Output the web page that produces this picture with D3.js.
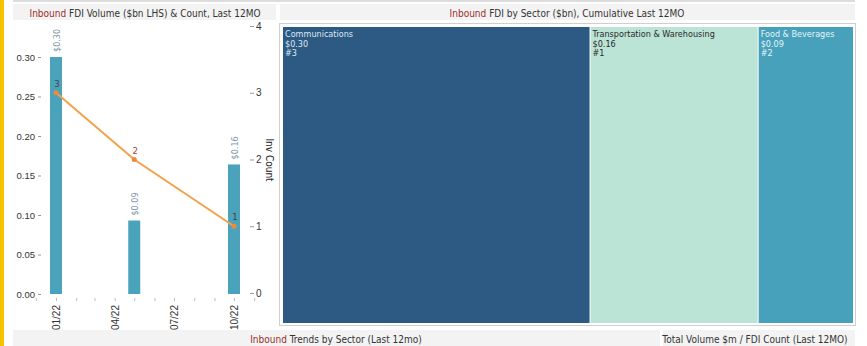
<!DOCTYPE html>
<html><head><meta charset="utf-8">
<script src="https://cdn.jsdelivr.net/npm/d3@7"></script>
<style>
body{margin:0;background:#fff;}
svg{display:block;font-family:"Liberation Sans Narrow","DejaVu Sans Condensed","Open Sans",sans-serif;}
</style></head><body>
<svg id="c" width="867" height="346"></svg>
<script>
// ---- data ----
const months = ["2022-01", "2022-05", "2022-10"];
const volumes = [0.30, 0.093, 0.164];          // $bn
const counts = [3, 2, 1];                       // deal count
const volTicks = [0, 0.05, 0.10, 0.15, 0.20, 0.25, 0.30];
const countTicks = [0, 1, 2, 3, 4];
const sectors = ["Communications", "Transportation & Warehousing", "Food & Beverages"];
const sectorValues = [0.30, 0.164, 0.093];
const sectorCounts = [3, 1, 2];
const leftTitle = ["Inbound", " FDI Volume ($bn LHS) & Count, Last 12MO"];
const rightTitle = ["Inbound", " FDI by Sector ($bn), Cumulative Last 12MO"];
const bottomTitleA = ["Inbound", " Trends by Sector (Last 12mo)"];
const bottomTitleB = "Total Volume $m / FDI Count (Last 12MO)";

const svg = d3.select("#c");
const parse = d3.timeParse("%Y-%m");

// frame
svg.append("rect").attr("x",0).attr("y",0).attr("width",4).attr("height",346).attr("fill","#f7c300");
svg.append("rect").attr("x",13).attr("y",0).attr("width",842).attr("height",2).attr("fill","#dcdcdc");
function titleBar(x,w,y,h,parts,cx){
  svg.append("rect").attr("x",x).attr("y",y).attr("width",w).attr("height",h).attr("fill","#f3f3f3");
  const t = svg.append("text").attr("x",cx).attr("y",y+12.5).attr("text-anchor","middle").attr("font-size",10);
  if (typeof parts === "string") t.append("tspan").attr("fill","#333").text(parts);
  else { t.append("tspan").attr("fill","#9b2c2c").text(parts[0]); t.append("tspan").attr("fill","#333").text(parts[1]); }
}
titleBar(13,263,4,16,leftTitle,145);
titleBar(280,575,4,16,rightTitle,567);
titleBar(13,647,330,16,bottomTitleA,336);
titleBar(663,192,330,16,bottomTitleB,755);

// ---- left combo chart ----
const x = d3.scaleTime().domain([parse("2022-01"), parse("2022-10")]).range([56, 234]);
const yL = d3.scaleLinear().domain([0, 0.30]).range([294, 57]);
const yR = d3.scaleLinear().domain([0, 4]).range([293, 26]);

const axL = svg.append("g").attr("transform","translate(41,0)")
  .call(d3.axisLeft(yL).tickValues(volTicks).tickFormat(d3.format(".2f")).tickSize(3).tickPadding(3));
axL.select(".domain").remove();
axL.selectAll("text").attr("font-size",9.5).attr("fill","#333").attr("font-family","inherit");
axL.selectAll("line").attr("stroke","#999");

const axR = svg.append("g").attr("transform","translate(250,0)")
  .call(d3.axisRight(yR).tickValues(countTicks).tickFormat(d3.format("d")).tickSize(4).tickPadding(2));
axR.select(".domain").remove();
axR.selectAll("text").attr("font-size",10).attr("fill","#333").attr("font-family","inherit");
axR.selectAll("line").attr("stroke","#999");
svg.append("text").attr("transform","translate(266,160) rotate(90)").attr("text-anchor","middle")
  .attr("font-size",10).attr("fill","#222").text("Inv Count");

// x axis: monthly minor ticks, quarterly labels
const minor = d3.timeMonth.range(parse("2021-12"), parse("2022-12"));
const axX = svg.append("g").attr("transform","translate(0,298)")
  .call(d3.axisBottom(x).tickValues(minor).tickSize(3).tickPadding(3)
    .tickFormat(d => (d.getMonth()%3===0) ? d3.timeFormat("%m/%y")(d) : ""));
axX.select(".domain").remove();
axX.selectAll("line").attr("stroke","#bbb");
axX.selectAll("text").attr("font-size",10).attr("fill","#333").attr("font-family","inherit")
  .attr("text-anchor","end").attr("transform","rotate(-90)").attr("x",-7).attr("y",0).attr("dy","0.35em");

// bars
const bw = 12;
const bars = svg.append("g");
months.forEach((m,i) => {
  const cx = x(parse(m));
  bars.append("rect").attr("x",cx-bw/2).attr("y",yL(volumes[i])).attr("width",bw)
    .attr("height",yL(0)-yL(volumes[i])).attr("fill","#4aa3bb");
  bars.append("text").attr("transform",`translate(${cx+3.5},${yL(volumes[i])-5}) rotate(-90)`)
    .attr("font-size",9).attr("fill","#8296ab").text("$"+d3.format(".2f")(volumes[i]));
});

// count line
const pts = months.map((m,i)=>[x(parse(m)), yR(counts[i])]);
svg.append("path").attr("d", d3.line()(pts)).attr("fill","none").attr("stroke","#f5a04a").attr("stroke-width",2);
pts.forEach((p,i)=>{
  svg.append("circle").attr("cx",p[0]).attr("cy",p[1]).attr("r",2.5).attr("fill","#f08a3a");
  svg.append("text").attr("x",p[0]+1).attr("y",p[1]-6).attr("text-anchor","middle")
    .attr("font-size",9.5).attr("fill", i===1 ? "#a33a3a" : "#444").text(counts[i]);
});

// ---- treemap ----
svg.append("rect").attr("x",279.5).attr("y",23.5).attr("width",576).attr("height",302)
  .attr("fill","#fff").attr("stroke","#cfcfcf");
const root = d3.hierarchy({children: sectors.map((s,i)=>({name:s, value:sectorValues[i], count:sectorCounts[i]}))})
  .sum(d => d.value || 0).sort((a,b)=>b.value-a.value);
d3.treemap().tile(d3.treemapDice).size([570,296]).paddingInner(1)(root);
const fills = ["#2c5a82","#bbe3d6","#48a1bb"];
const textCols = ["#dfe8f2","#2a2a2a","#e6f4f8"];
const g = svg.append("g").attr("transform","translate(283,27)");
root.leaves().forEach((d,i)=>{
  g.append("rect").attr("x",d.x0).attr("y",d.y0).attr("width",d.x1-d.x0).attr("height",d.y1-d.y0).attr("fill",fills[i]);
  const lines = [d.data.name, "$"+d3.format(".2f")(d.data.value), "#"+d.data.count];
  lines.forEach((t,j)=>{
    g.append("text").attr("x",d.x0+2).attr("y",d.y0+10+j*9.5).attr("font-size",9).attr("fill",textCols[i]).text(t);
  });
});
</script>
</body></html>
